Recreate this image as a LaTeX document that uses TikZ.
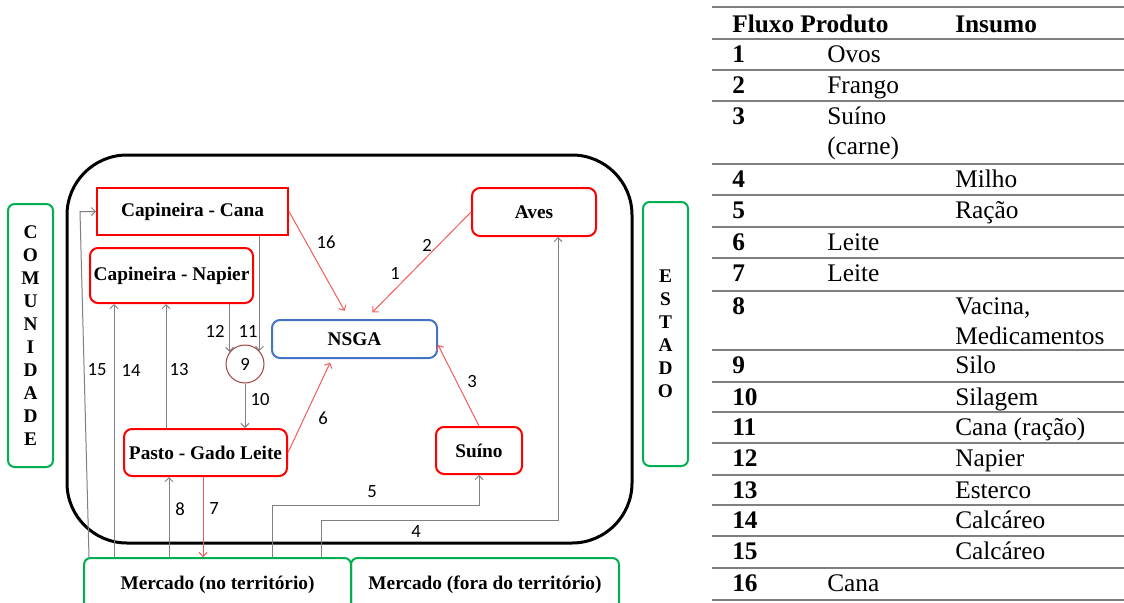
\documentclass[tikz,border=0pt]{standalone}
\usepackage{fontspec}
\setmainfont{Liberation Serif}
\newfontfamily\numfont{Carlito}
\usetikzlibrary{arrows.meta,positioning}

\definecolor{grn}{HTML}{00B050}
\definecolor{boxred}{HTML}{FF0000}
\definecolor{boxblue}{HTML}{4472C4}
\definecolor{silored}{HTML}{A0423F}
\definecolor{flowred}{HTML}{F25C5C}
\definecolor{flowgray}{HTML}{808080}
\definecolor{rulegray}{HTML}{7F7F7F}

% two stacked lines, baseline on the first one
\newcommand{\twolines}[2]{\vtop{\hbox{#1}\hbox{#2}}}

\begin{document}
\begin{tikzpicture}[
  x=0.75pt, y=-0.75pt,
  unit/.style={draw=boxred, line width=1.5pt, rounded corners=6pt, inner sep=2pt,
    minimum height=35.25pt, font=\bfseries\fontsize{14.5}{17}\selectfont},
  actor/.style={draw=grn, line width=1.5pt, rounded corners=5pt, inner sep=2pt,
    align=center, font=\bfseries\fontsize{14.5}{17.25}\selectfont},
  flow/.style={draw=flowgray, line width=0.75pt, -{Straight Barb[length=3pt,width=6pt]}},
  prod/.style={flow, draw=flowred},
  num/.style={inner sep=0pt, font=\numfont\fontsize{14}{16}\selectfont},
  cell/.style={anchor=base west, inner sep=0pt, font=\fontsize{19}{22.5}\selectfont},
  head/.style={cell, font=\bfseries\fontsize{19}{22.5}\selectfont},
  rule/.style={draw=rulegray, line width=1.5pt}
]
  \useasboundingbox (0,0) rectangle (1124,603);

  % territory frame and outside actors
  \node[draw, line width=2.25pt, rounded corners=45pt, minimum width=423.75pt,
    minimum height=291pt] (terr) at (349.5,349) {};
  \node[actor, minimum width=33.75pt, minimum height=197.25pt] (com) at (30.5,335.5)
    {C\\O\\M\\U\\N\\I\\D\\A\\D\\E};
  \node[actor, minimum width=33.75pt, minimum height=198pt] (est) at (665.5,334)
    {E\\S\\T\\A\\D\\O};
  \node[actor, minimum width=200.25pt, minimum height=40.5pt] (mkin) at (217.5,585)
    {Mercado (no território)};
  \node[actor, minimum width=201pt, minimum height=40.5pt] (mkout) at (485,585)
    {Mercado (fora do território)};

  % production units
  \node[unit, rounded corners=0pt, minimum width=143.25pt] (cana) at (192.5,211.5) {Capineira - Cana};
  \node[unit, minimum width=122.25pt, minimum height=41.25pt] (napier) at (171.5,275.5) {Capineira - Napier};
  \node[unit, minimum width=93pt, minimum height=36pt] (aves) at (534,212) {Aves};
  \node[unit, draw=boxblue, minimum width=123.75pt, minimum height=28.5pt] (nsga) at (354.5,339) {NSGA};
  \node[unit, minimum width=122.25pt] (pasto) at (205.5,452.5) {Pasto - Gado Leite};
  \node[unit, minimum width=64.5pt] (suino) at (479,450.5) {Suíno};
  \node[circle, draw=silored, line width=0.75pt, minimum size=28.5pt, inner sep=0pt,
    font=\numfont\fontsize{14}{16}\selectfont] (silo) at (245,364) {9};

  % inputs
  \draw[flow] (89,0 |- mkin.north) -- (80,0 |- cana.west) -- (cana.west);
  \draw[flow] (114,0 |- mkin.north) -- (114,0 |- napier.south);
  \draw[flow] (166,0 |- pasto.north) -- (166,0 |- napier.south);
  \draw[flow] (silo.142 |- napier.south) -- (silo.142);
  \draw[flow] (silo.42 |- cana.south) -- (silo.42);
  \draw[flow] (silo.south) -- (silo.south |- pasto.north);
  \draw[flow] (169,0 |- mkin.north) -- (169,0 |- pasto.south);
  \draw[flow] (272,0 |- mkin.north) -- (272,505) -- (suino.south |- 0,505) -- (suino.south);
  \draw[flow] (321,0 |- mkin.north) -- (321,520) -- (558,520) -- (558,0 |- aves.south);

  % products
  \draw[prod, shorten >=7pt] (cana.east) -- ([xshift=-4pt]nsga.north);
  \draw[prod, shorten >=7pt] (aves.west) -- ([xshift=8.5pt]nsga.north);
  \draw[prod, shorten >=3pt] (pasto.east) -- ([xshift=-17pt]nsga.south);
  \draw[prod] (suino.north) -- (nsga.-4);
  \draw[prod] (203,0 |- pasto.south) -- (203,0 |- mkin.north);

  % flow numbers
  \node[num] (n1) at (395,273) {1};
  \node[num] (n2) at (427,245) {2};
  \node[num] (n3) at (472,382) {3};
  \node[num] (n4) at (416,532) {4};
  \node[num] (n5) at (372,492) {5};
  \node[num] (n6) at (323,418) {6};
  \node[num] (n7) at (214,509) {7};
  \node[num] (n8) at (180,509) {8};
  \node[num] (n10) at (260,400) {10};
  \node[num] (n11) at (248,331) {11};
  \node[num] (n12) at (215,331) {12};
  \node[num] (n13) at (179,370) {13};
  \node[num] (n14) at (131,370) {14};
  \node[num] (n15) at (97,370) {15};
  \node[num] (n16) at (326,242) {16};

  % legend table
  \foreach \ry in {7,39,70,101,164,195,227,258,291,350,382,412,443,475,505,536,568,600}
    \draw[rule] (712,\ry) -- (1124,\ry);
  \node[head] (hfluxo) at (732,32) {Fluxo};
  \node[head] (hprod) at (800,32) {Produto};
  \node[head] (hins) at (955,32) {Insumo};
  \foreach \n/\ty/\p/\s in {1/39/Ovos/, 2/70/Frango/, 3/101/{\twolines{Suíno}{(carne)}}/,
      4/164//Milho, 5/195//Ração, 6/227/Leite/, 7/258/Leite/,
      8/291//{\twolines{Vacina,}{Medicamentos}}, 9/350//Silo, 10/382//Silagem,
      11/412//Cana (ração), 12/443//Napier, 13/475//Esterco,
      14/505//Calcáreo, 15/536//Calcáreo, 16/568/Cana/}{
    \node[head] (f\n) at (732,{\ty+23}) {\n};
    \node[cell] (p\n) at (827,{\ty+23}) {\p};
    \node[cell] (s\n) at (955,{\ty+23}) {\s};
  }
\end{tikzpicture}
\end{document}
